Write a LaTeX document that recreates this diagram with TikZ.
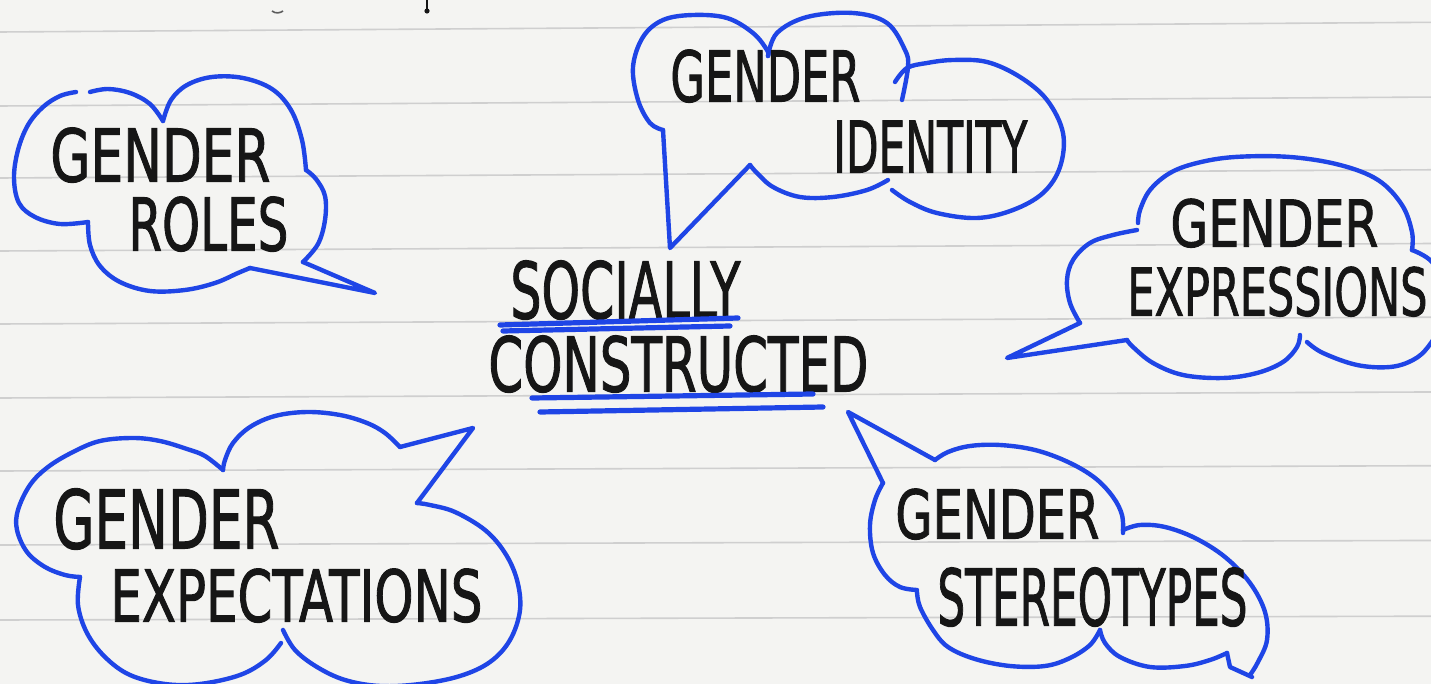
\documentclass[tikz,border=0pt]{standalone}
\usepackage{fontspec}
\setmainfont{DejaVu Sans}
\newfontfamily\markerfont[FakeBold=1.6]{DejaVu Sans}

\definecolor{paper}{HTML}{F4F4F2}
\definecolor{rulegray}{HTML}{CFCFCF}
\definecolor{ink}{HTML}{1F45E6}
\definecolor{pen}{HTML}{161616}

% one hand-lettered line, stretched to a given width and cap height
\newcommand\letters[3]{\resizebox{#2pt}{#3pt}{\markerfont #1}}

\tikzset{
  cloud line/.style={draw=ink, line width=2.2pt, line cap=round, line join=round},
  underline/.style={draw=ink, line width=2.6pt, line cap=round},
  rule line/.style={draw=rulegray, line width=0.8pt},
  word/.style={inner sep=0pt, anchor=south west, text=pen},
  lobe/.style={smooth, tension=0.6},
}

\begin{document}
\begin{tikzpicture}[x=0.5pt,y=-0.5pt]
  % sheet of ruled paper
  \fill[paper] (0,0) rectangle (1431,684);
  \useasboundingbox (0,0) rectangle (1431,684);
  \clip (0,0) rectangle (1431,684);
  \foreach \y in {32,106,178,251,324,398,471,545,620}
    \draw[rule line] (0,\y) -- (1431,{\y-10+\y/100});

  % stray pen marks along the top edge
  \draw[pen, line width=1.4pt, line cap=round] (427,0) -- (427,10);
  \fill[pen] (427,11) circle (2.6);
  \draw[pen!70, line width=0.8pt] (272,11) .. controls (276,14) and (280,13) .. (283,11);

  % ---------------- centre ----------------
  \node[word] (socially) at (510,320) {\letters{SOCIALLY}{115}{29}};
  \node[word] (constructed) at (488,393) {\letters{CONSTRUCTED}{190}{28}};
  \draw[underline] (500,325) -- (738,318);
  \draw[underline] (503,331) -- (730,326);
  \draw[underline] (532,398) -- (813,394);
  \draw[underline] (540,412) -- (823,407);

  % ---------------- gender roles ----------------
  \draw[cloud line] plot[lobe] coordinates {(76,92) (60,96) (43,107) (28,125) (18,150) (14,178) (19,203) (35,217) (60,224) (88,222)};
  \draw[cloud line] plot[lobe] coordinates {(88,222) (90,245) (100,266) (120,282) (150,291) (185,290) (215,283) (238,273) (250,268)};
  \draw[cloud line] (250,268) -- (375,293) -- (303,262);
  \draw[cloud line] plot[lobe] coordinates {(303,262) (318,244) (325,220) (325,196) (316,179) (306,170)};
  \draw[cloud line] plot[lobe] coordinates {(306,170) (302,140) (291,110) (272,89) (243,78) (212,77) (187,85) (171,100) (163,121)};
  \draw[cloud line] plot[lobe] coordinates {(163,121) (150,104) (130,93) (108,89) (90,92)};
  \node[word] (rolesA) at (50,183) {\letters{GENDER}{110}{27}};
  \node[word] (rolesB) at (128,252) {\letters{ROLES}{80}{27}};

  % ---------------- gender identity ----------------
  \draw[cloud line] (750,165) -- (670,248) -- (663,130);
  \draw[cloud line] plot[lobe] coordinates {(663,130) (650,123) (638,100) (633,67) (643,37) (663,20) (693,15) (727,18) (753,33) (767,50) (768,56)};
  \draw[cloud line] plot[lobe] coordinates {(768,56) (777,33) (807,17) (853,13) (887,23) (905,50) (908,67) (902,100)};
  \draw[cloud line] plot[lobe] coordinates {(895,82) (907,68) (927,63) (953,60) (987,62) (1020,77) (1047,100) (1063,133) (1060,167) (1043,193) (1013,210) (977,218) (937,213) (910,202) (892,190)};
  \draw[cloud line] plot[lobe] coordinates {(888,180) (867,190) (833,197) (800,197) (773,187) (757,173) (750,165)};
  \node[word] (identityA) at (670,103) {\letters{GENDER}{95}{26}};
  \node[word] (identityB) at (833,173) {\letters{IDENTITY}{97}{26}};

  % ---------------- gender expressions ----------------
  \draw[cloud line] (1080,323) -- (1007,358) -- (1127,340);
  \draw[cloud line] plot[lobe] coordinates {(1080,323) (1070,303) (1067,280) (1073,260) (1090,243) (1113,235) (1137,230)};
  \draw[cloud line] plot[lobe] coordinates {(1138,223) (1140,210) (1150,190) (1170,173) (1197,163) (1235,157) (1290,157) (1340,165) (1378,180) (1402,205) (1412,232) (1412,250)};
  \draw[cloud line] plot[lobe] coordinates {(1412,250) (1432,262) (1445,290) (1440,325) (1428,347) (1413,360) (1390,367) (1357,365) (1323,353) (1307,342)};
  \draw[cloud line] plot[lobe] coordinates {(1300,335) (1297,347) (1283,362) (1257,373) (1223,378) (1183,375) (1153,363) (1133,347) (1127,340)};
  \node[word] (expressionsA) at (1170,248) {\letters{GENDER}{104}{24}};
  \node[word] (expressionsB) at (1127,317) {\letters{EXPRESSIONS}{150}{24.5}};

  % ---------------- gender expectations ----------------
  \draw[cloud line] (400,447) -- (473,428) -- (417,503);
  \draw[cloud line] plot[lobe] coordinates {(400,447) (385,433) (367,423) (340,415) (307,412) (275,416) (250,427) (233,443) (225,460) (223,470)};
  \draw[cloud line] plot[lobe] coordinates {(223,470) (205,456) (187,449) (160,441) (133,438) (100,441) (73,452) (48,467) (30,485) (18,510) (17,530) (27,552) (45,567) (65,575) (80,577)};
  \draw[cloud line] plot[lobe] coordinates {(80,577) (78,605) (87,633) (105,657) (130,675) (165,684) (200,684) (240,675) (266,660) (281,643)};
  \draw[cloud line] plot[lobe] coordinates {(283,630) (295,650) (317,667) (345,680) (380,686) (420,684) (460,676) (490,662) (510,640) (520,610) (517,580) (505,553) (485,530) (455,512) (430,505) (417,503)};
  \node[word] (expectationsA) at (53,550) {\letters{GENDER}{113}{30}};
  \node[word] (expectationsB) at (110,623) {\letters{EXPECTATIONS}{186}{26.5}};

  % ---------------- gender stereotypes ----------------
  \draw[cloud line] (935,460) -- (848,412) -- (883,483);
  \draw[cloud line] plot[lobe] coordinates {(935,460) (948,452) (970,446) (1000,445) (1035,450) (1068,462) (1095,478) (1113,497) (1122,515) (1123,533)};
  \draw[cloud line] plot[lobe] coordinates {(1123,530) (1140,525) (1165,527) (1195,538) (1225,557) (1250,583) (1265,612) (1267,640) (1258,662) (1250,675)};
  \draw[cloud line] (1252,677) -- (1230,667) -- (1227,653);
  \draw[cloud line] plot[lobe] coordinates {(1227,653) (1210,660) (1185,666) (1150,667) (1120,657) (1105,643) (1100,630)};
  \draw[cloud line] plot[lobe] coordinates {(1100,630) (1090,645) (1070,658) (1045,666) (1010,666) (975,659) (948,647) (933,630) (920,607) (917,592)};
  \draw[cloud line] plot[lobe] coordinates {(917,590) (900,587) (885,575) (873,553) (870,525) (875,500) (883,483)};
  \node[word] (stereotypesA) at (895,540) {\letters{GENDER}{102}{25}};
  \node[word] (stereotypesB) at (937,627) {\letters{STEREOTYPES}{155}{29}};
\end{tikzpicture}
\end{document}
